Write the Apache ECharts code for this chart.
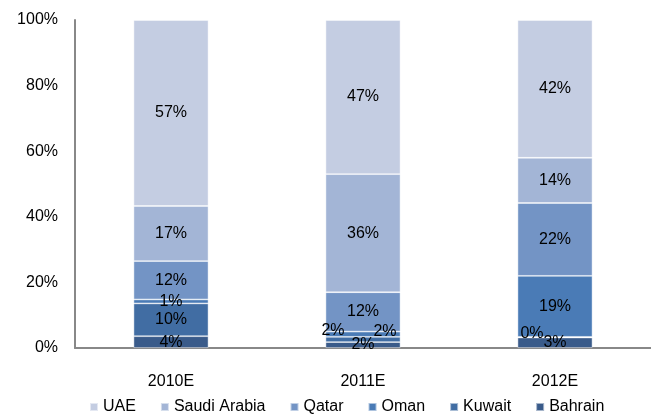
<!DOCTYPE html>
<html>
<head>
<meta charset="utf-8">
<script src="https://cdn.jsdelivr.net/npm/echarts@6/dist/echarts.min.js"></script>
<style>
  html, body { margin: 0; padding: 0; background: #fff; }
  #chart { width: 651px; height: 416px; }
</style>
</head>
<body>
<div id="chart"></div>
<script>
// categories and shares (%), bottom of stack first
var years = ["2010E", "2011E", "2012E"];
var bahrain = [3.6, 1.8, 3.2];
var kuwait = [10.0, 1.6, 0.2];
var oman = [1.2, 1.6, 18.6];
var qatar = [11.7, 12.0, 22.2];
var saudi = [16.8, 36.0, 13.8];
var uae = [56.7, 47.0, 42.0];
var yTicks = [0, 20, 40, 60, 80, 100];

var legendOrder = ["UAE", "Saudi Arabia", "Qatar", "Oman", "Kuwait", "Bahrain"];

// label nudges for the thin slices that overlap (per series, per bar)
var offsets = {
    "Kuwait": [[0, 0], [-30, -9], [-23, -4]],
    "Oman": [[0, 0], [22, -3], [0, 0]]
};

function makeSeries(name, data, color) {
    return {
        name: name,
        type: "bar",
        stack: "all",
        barWidth: 75,
        itemStyle: {
            color: color,
            borderColor: "rgba(255,255,255,0.55)",
            borderWidth: 0.8
        },
        data: data.map(function (v, i) {
            var item = { value: v };
            if (offsets[name]) {
                item.label = { offset: offsets[name][i] };
            }
            return item;
        }),
        label: {
            show: true,
            position: "inside",
            color: "#000",
            fontFamily: "Liberation Sans",
            fontSize: 16,
            formatter: function (p) {
                return Math.round(p.value) + "%";
            }
        }
    };
}

var chart = echarts.init(document.getElementById("chart"));
chart.setOption({
    animation: false,
    textStyle: { fontFamily: "Liberation Sans" },
    grid: { left: 75, right: 0, top: 20, bottom: 68 },
    legend: {
        data: legendOrder,
        top: 399,
        left: 89,
        padding: 0,
        itemWidth: 8,
        itemHeight: 8,
        itemGap: 24,
        icon: "rect",
        textStyle: { fontFamily: "Liberation Sans", fontSize: 16, color: "#000" }
    },
    xAxis: {
        type: "category",
        data: years,
        axisLine: { lineStyle: { color: "#888", width: 2 } },
        axisTick: { show: false },
        axisLabel: { color: "#000", fontSize: 16, margin: 26 }
    },
    yAxis: {
        type: "value",
        min: yTicks[0],
        max: yTicks[yTicks.length - 1],
        interval: 20,
        splitLine: { show: false },
        axisLine: { show: true, lineStyle: { color: "#888", width: 2 } },
        axisTick: { show: false },
        axisLabel: { color: "#000", fontSize: 16, margin: 17, formatter: "{value}%" }
    },
    series: [
        makeSeries("Bahrain", bahrain, "#3a5b8a"),
        makeSeries("Kuwait", kuwait, "#416da3"),
        makeSeries("Oman", oman, "#4a7bb6"),
        makeSeries("Qatar", qatar, "#7394c5"),
        makeSeries("Saudi Arabia", saudi, "#a3b5d6"),
        makeSeries("UAE", uae, "#c4cde2")
    ]
});
</script>
</body>
</html>
